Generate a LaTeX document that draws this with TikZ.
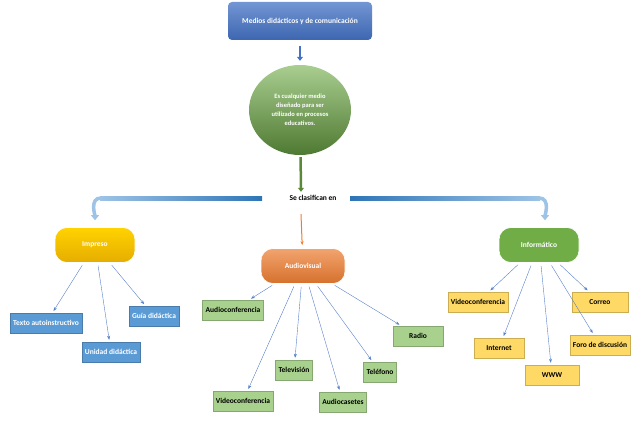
\documentclass[tikz,border=0pt]{standalone}
\usepackage{fontspec}
\setmainfont{Carlito}
\usetikzlibrary{arrows.meta,positioning,shapes.geometric,calc}

\definecolor{titblue}{HTML}{4472C4}
\definecolor{boxblue}{HTML}{5B9BD5}
\definecolor{lgreen}{HTML}{A9D18E}
\definecolor{lyellow}{HTML}{FFD966}
\definecolor{dgreen}{HTML}{70AD47}
\definecolor{orng}{HTML}{ED7D31}
\definecolor{gold}{HTML}{FFC000}
\definecolor{brlight}{HTML}{9DC3E6}
\definecolor{brdark}{HTML}{2E75B6}

\begin{document}
\begin{tikzpicture}[
				x = 1pt, y = -1pt,
				font = \fontsize{7.5}{9}\selectfont\bfseries,
				> = {Stealth[length=4pt]},
				link/.style = {->, draw = titblue!90, thin, shorten < = 3pt, shorten > = 2pt},
				cat/.style = {rounded corners = 12pt, minimum width = 80pt, minimum height = 35pt, text = white, draw = white, line width = 0.6pt},
				leaf/.style = {minimum height = 20pt, inner xsep = 3pt, draw = #1!80!black, line width = 0.5pt, fill = #1},
				fat/.style = {line width = 3.5pt, -{Triangle[length=5pt,width=8pt]}, shorten > = 7pt}
			]
			\useasboundingbox (0,0) rectangle (634,425);
			
			% top part
			\node[rounded corners = 4pt, top color = titblue!75, bottom color = titblue!90!black, text = white, minimum width = 144pt, minimum height = 38pt] (tit) at (300,21) {Medios didácticos y de comunicación};
			\node[ellipse, top color = dgreen!60, bottom color = dgreen!70!black, text = white, minimum width = 102pt, minimum height = 90pt, inner sep = 1pt, align = center, font = \fontsize{6.5}{9}\selectfont\bfseries] (def) at (300,110) {Es cualquier medio\\diseñado para ser\\utilizado en procesos\\educativos.};
			\node (cls) at (313,198) {Se clasifican en};
			
			\draw[titblue, line width = 2.5pt, -{Triangle[length=4pt,width=6pt]}, shorten < = 6pt, shorten > = 4pt] (tit) -- (def);
			\draw[dgreen!80!black, line width = 2.5pt, -{Triangle[length=4pt,width=6pt]}, shorten < = 2pt] (def) -- ($(cls.north)+(-12,0)$);
			
			% categories
			\node[cat, top color = gold!70!yellow, bottom color = gold!90!black] (imp) at (95,245) {Impreso};
			\node[cat, top color = orng!70, bottom color = orng!90!black, minimum width = 84pt] (aud) at (303,266) {Audiovisual};
			\node[cat, fill = dgreen] (inf) at (539,245) {Informático};
			
			\shade[left color = brlight, right color = brdark] (100,196) rectangle (262,200);
			\shade[left color = brdark, right color = brlight] (350,196) rectangle (540,200);
			\draw[fat, brlight] (101,198) to[out=180, in=90] (imp.north);
			\draw[fat, brlight] (539,198) to[out=0, in=90] ($(inf.north)+(6,0)$);
			\draw[orng, line width = 1pt, ->, shorten > = 3pt] ($(cls.south)+(-12,10)$) -- (aud);
			
			% leaves
			\node[leaf = boxblue, text = white] (txt) at (46,323) {Texto autoinstructivo};
			\node[leaf = boxblue, text = white] (gui) at (154,316) {Guía didáctica};
			\node[leaf = boxblue, text = white] (uni) at (111,352) {Unidad didáctica};
			
			\node[leaf = lgreen] (aco) at (233,310) {Audioconferencia};
			\node[leaf = lgreen, minimum width = 50pt] (rad) at (418,336) {Radio};
			\node[leaf = lgreen] (tel) at (294,370) {Televisión};
			\node[leaf = lgreen] (tfo) at (380,372) {Teléfono};
			\node[leaf = lgreen] (vco) at (243,401) {Videoconferencia};
			\node[leaf = lgreen] (aca) at (343,402) {Audiocasetes};
			
			\node[leaf = lyellow] (ivc) at (478,302) {Videoconferencia};
			\node[leaf = lyellow, minimum width = 56pt] (cor) at (600,302) {Correo};
			\node[leaf = lyellow, minimum width = 50pt] (int) at (499,348) {Internet};
			\node[leaf = lyellow] (for) at (600,345) {Foro de discusión};
			\node[leaf = lyellow, minimum width = 54pt] (www) at (552,375) {WWW};
			
			% links
			\foreach \a/\b in {imp/txt, imp/uni, imp/gui, aud/aco, aud/vco, aud/tel, aud/aca, aud/tfo, aud/rad, inf/ivc, inf/int, inf/www, inf/for, inf/cor}
				\draw[link] (\a) -- (\b);
		\end{tikzpicture}
\end{document}
